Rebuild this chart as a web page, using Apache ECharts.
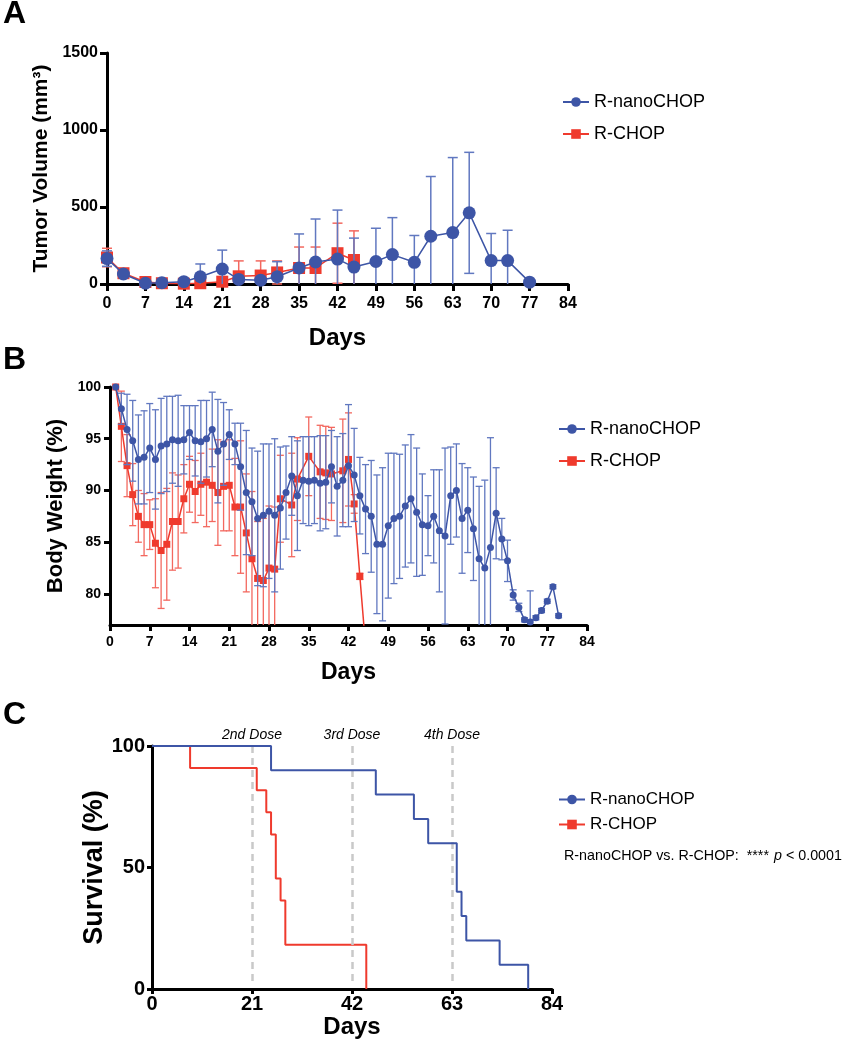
<!DOCTYPE html>
<html><head><meta charset="utf-8">
<script src="https://cdn.jsdelivr.net/npm/echarts@6/dist/echarts.min.js"></script>
<style>html,body{margin:0;padding:0;background:#fff}#c{width:847px;height:1050px}</style>
</head><body><div id="c"></div>
<script>
// ---------- Panel A: tumor volume ----------
var tvNanoDays = [0,3,7,10,14,17,21,24,28,31,35,38,42,45,49,52,56,59,63,66,70,73,77];
var tvNano     = [165,65,5,8,15,47,97,30,25,47,104,143,162,110,146,191,141,310,334,462,152,152,12];
var tvNanoErr  = [50,15,8,8,12,83,123,20,20,98,221,279,318,188,216,240,174,388,487,393,176,197,0];
var tvChopDays = [0,3,7,10,14,17,21,24,28,31,35,38,42,45];
var tvChop     = [172,70,13,5,2,5,15,50,55,75,104,104,200,156];
var tvChopErr  = [60,15,10,5,5,5,10,100,95,75,136,136,195,189];

// ---------- Panel B: body weight ----------
var bwNanoDays = [1,2,3,4,5,6,7,8,9,10,11,12,13,14,15,16,17,18,19,20,21,22,23,24,25,26,27,28,29,30,31,32,33,34,35,36,37,38,39,40,41,42,43,44,45,46,47,48,49,50,51,52,53,54,55,56,57,58,59,60,61,62,63,64,65,66,67,68,69,70,71,72,73,74,75,76,77,78,79];
var bwNano = [100,97.9,95.9,94.8,93.0,93.2,94.1,93.0,94.3,94.5,94.9,94.8,94.9,95.6,94.8,94.7,95.0,95.9,93.8,94.5,95.4,94.5,92.3,89.8,88.9,87.3,87.6,88.0,87.6,88.3,89.8,91.4,89.5,91.0,90.9,91.0,90.7,90.8,92.3,90.4,91.0,92.4,91.5,89.5,88.2,87.5,84.8,84.8,86.6,87.3,87.5,88.5,89.2,87.9,86.7,86.6,87.5,86.1,85.6,89.5,90.0,87.3,88.1,86.3,83.4,82.5,84.5,87.8,85.3,83.2,79.9,78.7,77.5,77.3,77.7,78.4,79.3,80.7,77.9];
var bwNanoErr = [0,1.5,3.4,3.9,4.3,4.5,4.3,4.8,4.6,4.6,4.2,4.4,3.3,2.6,3.4,4.0,3.7,3.6,5.0,4.0,2.4,2.0,4.2,6.0,5.2,6.5,6.9,6.5,7.4,5.9,4.5,3.8,5.3,4.2,4.3,4.2,4.6,4.5,3.5,4.8,4.5,5.9,4.5,3.7,4.3,5.4,6.7,7.4,7.0,6.3,6.0,5.9,6.2,6.2,4.9,2.9,4.5,5.9,8.5,4.7,4.5,5.3,4.1,5.0,7.0,8.5,10.6,4.4,2.0,2.0,0.5,0.4,0.2,3.0,0.2,0.2,0.2,0.2,0.2];
var bwChopDays = [1,2,3,4,5,6,7,8,9,10,11,12,13,14,15,16,17,18,19,20,21,22,23,24,25,26,27,28,29,30,32,33,35,37,38,39,41,42,43,44,45];
var bwChop = [100,96.2,92.4,89.6,87.5,86.7,86.7,84.9,84.2,84.8,87.0,87.0,89.2,90.6,89.9,90.6,90.8,90.5,89.8,90.4,90.5,88.4,88.4,85.9,83.4,81.5,81.3,82.5,82.4,89.2,88.6,91.1,93.3,91.8,91.7,91.6,91.9,93.0,88.7,81.7,75.0];
var bwChopErr = [0,3.4,3.0,3.0,2.5,3.0,2.4,4.3,5.6,5.4,4.7,4.5,3.3,2.7,3.0,3.0,4.3,3.5,5.1,4.3,4.4,4.7,6.4,5.7,6.5,5.5,6.0,6.0,6.0,4.2,5.0,4.0,3.8,4.5,4.5,4.5,5.0,4.5,0.9,0.3,0];
var bwTicks = [80,85,90,95,100];

// ---------- Panel C: survival ----------
var survNanoDays = [0,25,47,55,58,64,65,66,73,79];
var survNano     = [100,90,80,70,60,40,30,20,10,0];
var survChopDays = [0,8,22,24,25,26,27,28,45];
var survChop     = [100,90.9,81.8,72.7,63.6,45.5,36.4,18.2,0];
var doseDays   = [21,42,63];
var doseLabels = ['2nd Dose','3rd Dose','4th Dose'];

var BLUE = '#3d55a6', RED = '#ef3a2d', BLUE_E = '#6178c0', RED_E = '#f3685f';
var FONT = "'Liberation Sans', Arial, Helvetica, sans-serif";

function pairs(xs, ys){ return xs.map(function(x,i){ return [x, ys[i]]; }); }
function triples(xs, ys, es){ return xs.map(function(x,i){ return [x, ys[i], es[i]]; }); }
function plain(v){ return String(v); }

function errSeries(xi, data, color, cap, lw, lo, z){
  return {
    type:'custom', xAxisIndex:xi, yAxisIndex:xi, data:data, encode:{x:0,y:1}, silent:true, z:z,
    renderItem:function(params, api){
      var x=api.value(0), y=api.value(1), e=api.value(2);
      if(!e) return null;
      var lowV = y-e, clipped = lowV < lo;
      var a=api.coord([x,y+e]), b=api.coord([x, clipped?lo:lowV]);
      var st={stroke:color, lineWidth:lw};
      var ch=[{type:'line',shape:{x1:a[0],y1:a[1],x2:b[0],y2:b[1]},style:st},
              {type:'line',shape:{x1:a[0]-cap,y1:a[1],x2:a[0]+cap,y2:a[1]},style:st}];
      if(!clipped) ch.push({type:'line',shape:{x1:b[0]-cap,y1:b[1],x2:b[0]+cap,y2:b[1]},style:st});
      return {type:'group',children:ch};
    }
  };
}

function xAx(gi, max, interval, fs, margin, tickLen, nameFs, nameGap){
  return {gridIndex:gi, type:'value', min:0, max:max, interval:interval,
    axisLine:{show:true,onZero:false,lineStyle:{color:'#000',width:3}},
    axisTick:{show:true,length:tickLen,lineStyle:{color:'#000',width:3}},
    axisLabel:{fontSize:fs,fontWeight:'bold',color:'#000',margin:margin,fontFamily:FONT,formatter:plain},
    splitLine:{show:false},
    name:'Days', nameLocation:'middle', nameGap:nameGap,
    nameTextStyle:{fontSize:nameFs,fontWeight:'bold',color:'#000',fontFamily:FONT}};
}
function yAx(gi, min, max, interval, fs, margin, tickLen, name, nameFs, nameGap){
  var o={gridIndex:gi, type:'value', min:min, max:max,
    axisLine:{show:true,onZero:false,lineStyle:{color:'#000',width:3}},
    axisTick:{show:true,length:tickLen,lineStyle:{color:'#000',width:3}},
    axisLabel:{fontSize:fs,fontWeight:'bold',color:'#000',margin:margin,fontFamily:FONT,formatter:plain},
    splitLine:{show:false},
    name:name, nameLocation:'middle', nameGap:nameGap, nameRotate:90,
    nameTextStyle:{fontSize:nameFs,fontWeight:'bold',color:'#000',fontFamily:FONT}};
  if(interval) o.interval=interval;
  return o;
}

var yB = yAx(1, 77, 100, null, 14, 9, 6, 'Body Weight (%)', 22, 41);
yB.axisLabel.customValues = bwTicks;
yB.axisTick.customValues = bwTicks;

var doseMarks = doseDays.map(function(d,i){
  return [{coord:[d,100], name:doseLabels[i]},{coord:[d,3]}];
});

var legendBase = {orient:'vertical', itemWidth:26, itemHeight:12,
  data:['R-nanoCHOP','R-CHOP'], selectedMode:false};

var option = {
  animation:false,
  textStyle:{fontFamily:FONT},
  title:[
    {text:'A', left:3, top:-2, padding:0, textStyle:{fontSize:32,fontWeight:'bold',color:'#000',fontFamily:FONT}},
    {text:'B', left:3, top:344, padding:0, textStyle:{fontSize:32,fontWeight:'bold',color:'#000',fontFamily:FONT}},
    {text:'C', left:3, top:699, padding:0, textStyle:{fontSize:32,fontWeight:'bold',color:'#000',fontFamily:FONT}},
    {text:'{n|R-nanoCHOP vs. R-CHOP:  ****} {i|p}{n| < 0.0001}', left:564, top:847, padding:0,
      textStyle:{fontFamily:FONT, fontWeight:'normal', rich:{
        n:{fontSize:14.3,fontWeight:'normal',color:'#000',fontFamily:FONT},
        i:{fontSize:14.3,fontWeight:'normal',fontStyle:'italic',color:'#000',fontFamily:FONT}}}}
  ],
  legend:[
    Object.assign({}, legendBase, {left:557, top:88, itemGap:14, textStyle:{fontSize:18,color:'#000',fontFamily:FONT}}),
    Object.assign({}, legendBase, {left:553, top:415, itemGap:14, textStyle:{fontSize:18,color:'#000',fontFamily:FONT}}),
    Object.assign({}, legendBase, {left:553, top:786, itemGap:8, textStyle:{fontSize:17,color:'#000',fontFamily:FONT}})
  ],
  grid:[
    {left:107, top:53, width:461, height:231},
    {left:110, top:387, width:477, height:238},
    {left:152, top:746, width:400, height:243}
  ],
  xAxis:[ xAx(0,84,7,16,12,7,24,42), xAx(1,84,7,14,10,6,23,36), xAx(2,84,21,20,5,5,24,21) ],
  yAxis:[ yAx(0,0,1500,500,16,9,7,'Tumor Volume (mm³)',21,49), yB, yAx(2,0,100,50,20,7,5,'Survival (%)',27,42) ],
  series:[
    // Panel A
    errSeries(0, triples(tvChopDays,tvChop,tvChopErr), RED_E, 5, 1.5, 0, 2),
    {type:'line', name:'R-CHOP', xAxisIndex:0, yAxisIndex:0, data:pairs(tvChopDays,tvChop),
      symbol:'rect', symbolSize:12, color:RED, lineStyle:{width:1.5,color:RED}, z:3},
    errSeries(0, triples(tvNanoDays,tvNano,tvNanoErr), BLUE_E, 5, 1.5, 0, 4),
    {type:'line', name:'R-nanoCHOP', xAxisIndex:0, yAxisIndex:0, data:pairs(tvNanoDays,tvNano),
      symbol:'circle', symbolSize:13, color:BLUE, lineStyle:{width:1.5,color:BLUE}, z:5},
    // Panel B
    errSeries(1, triples(bwChopDays,bwChop,bwChopErr), RED_E, 3.5, 1.3, 77, 2),
    {type:'line', name:'R-CHOP', xAxisIndex:1, yAxisIndex:1, data:pairs(bwChopDays,bwChop),
      symbol:'rect', symbolSize:7, color:RED, lineStyle:{width:1.5,color:RED}, z:3},
    errSeries(1, triples(bwNanoDays,bwNano,bwNanoErr), BLUE_E, 3.5, 1.3, 77, 4),
    {type:'line', name:'R-nanoCHOP', xAxisIndex:1, yAxisIndex:1, data:pairs(bwNanoDays,bwNano),
      symbol:'circle', symbolSize:7, color:BLUE, lineStyle:{width:1.5,color:BLUE}, z:5},
    // Panel C
    {type:'line', name:'R-nanoCHOP', xAxisIndex:2, yAxisIndex:2, data:pairs(survNanoDays,survNano),
      step:'end', symbol:'circle', symbolSize:11, showSymbol:false, color:BLUE, lineStyle:{width:2,color:BLUE}, z:5,
      markLine:{silent:true, symbol:'none', animation:false,
        lineStyle:{type:[7,5], color:'#c9c9c9', width:2.5},
        label:{show:true, position:'start', formatter:'{b}', fontSize:14, fontStyle:'italic', color:'#000', distance:4, fontFamily:FONT},
        data:doseMarks}},
    {type:'line', name:'R-CHOP', xAxisIndex:2, yAxisIndex:2, data:pairs(survChopDays,survChop),
      step:'end', symbol:'rect', symbolSize:10, showSymbol:false, color:RED, lineStyle:{width:2,color:RED}, z:4}
  ]
};
var chart = echarts.init(document.getElementById('c'), null, {renderer:'canvas'});
chart.setOption(option);
</script></body></html>
